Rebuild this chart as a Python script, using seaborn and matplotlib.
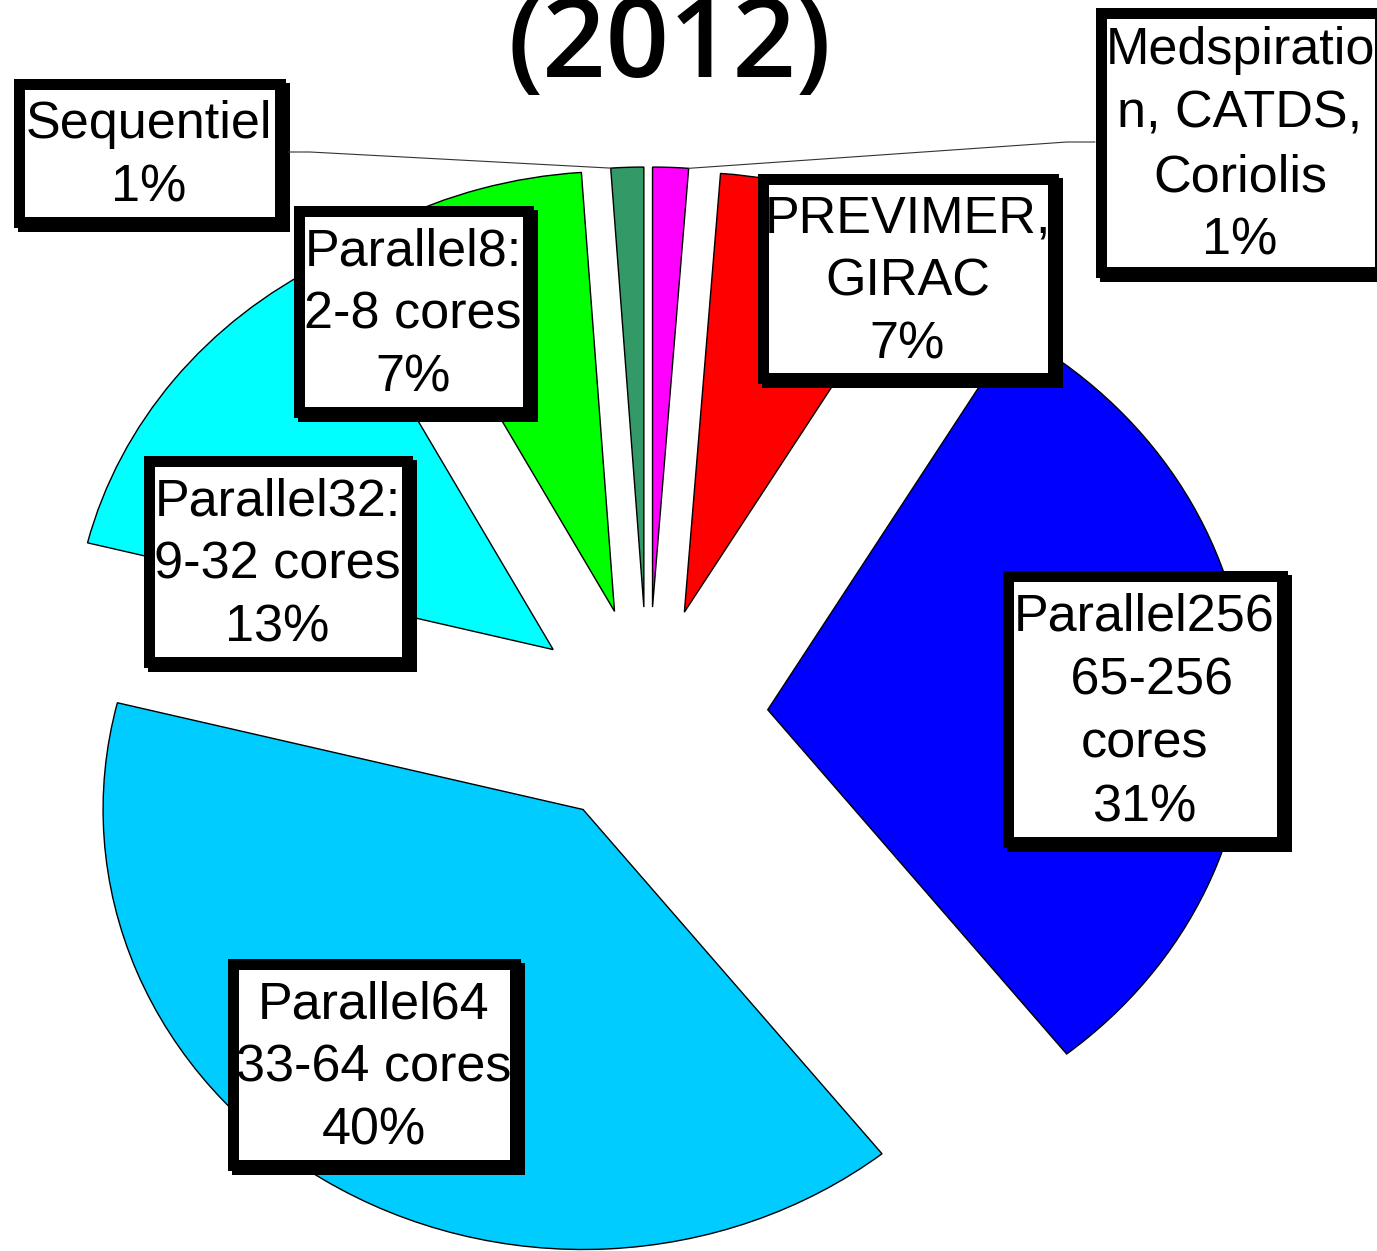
import matplotlib
matplotlib.use("Agg")
import matplotlib.pyplot as plt
from matplotlib.patches import Rectangle
import numpy as np
import seaborn as sns

# slices, clockwise from 12 o'clock (shares in %)
names = ["Medspiratio\nn, CATDS,\nCoriolis", "PREVIMER,\nGIRAC",
         "Parallel256\n 65-256\ncores", "Parallel64\n33-64 cores",
         "Parallel32:\n9-32 cores", "Parallel8:\n2-8 cores", "Sequentiel"]
shares = [1.2, 7.4, 30.7, 39.6, 13.2, 6.8, 1.1]
colors = ["#FF00FF", "#FF0000", "#0000FF", "#00CCFF",
          "#00FFFF", "#00FF00", "#339966"]
title = "(2012)"

# label boxes in output pixels (left, top, right, bottom)
boxes = [(1095, 7, 1385, 277), (757, 173, 1058, 383), (1002, 570, 1287, 847),
         (227, 958, 520, 1170), (143, 455, 412, 667), (293, 205, 533, 417),
         (13, 78, 285, 227)]

sns.set_style("white")
plt.rcParams["font.family"] = ["Liberation Sans", "DejaVu Sans"]
plt.rcParams["text.color"] = "black"

W, H = 1377, 1251
fig = plt.figure(figsize=(W / 100, H / 100), dpi=100)

# pie, stretched a bit wider than tall like the original
ax = fig.add_axes([0, 0, 1, 1])
cx, cy, rx, ry = 648, 717, 480, 440
wedges, _ = ax.pie(shares, colors=sns.color_palette(colors), startangle=90,
                   counterclock=False, explode=[0.25] * len(shares),
                   wedgeprops=dict(edgecolor="black", linewidth=1.0))
ax.set_aspect("auto")
ax.set_xlim(-cx / rx, (W - cx) / rx)
ax.set_ylim(-(H - cy) / ry, cy / ry)
ax.axis("off")

# overlay in pixel coordinates for boxes and text
lay = fig.add_axes([0, 0, 1, 1])
lay.set_xlim(0, W)
lay.set_ylim(H, 0)
lay.axis("off")


def to_px(w, ang):
    x = w.center[0] + w.r * np.cos(np.radians(ang))
    y = w.center[1] + w.r * np.sin(np.radians(ang))
    dx, dy = ax.transData.transform((x, y))
    return dx, H - dy


# leader lines for the two thin slices
px, py = to_px(wedges[6], wedges[6].theta2)
lay.plot([288, 310, px], [152, 152, py], color="#333333", lw=0.8)
px, py = to_px(wedges[0], wedges[0].theta1)
lay.plot([1095, 1067, px], [142, 142, py], color="#333333", lw=0.8)

lw = 11
for name, v, (x0, y0, x1, y1) in zip(names, shares, boxes):
    lay.add_patch(Rectangle((x0 + 5, y0 + 5), x1 - x0, y1 - y0,
                            facecolor="black", edgecolor="none"))
    lay.add_patch(Rectangle((x0 + lw / 2, y0 + lw / 2), x1 - x0 - lw, y1 - y0 - lw,
                            facecolor="white", edgecolor="black",
                            linewidth=lw * 0.72))
    lay.text((x0 + x1) / 2, (y0 + y1) / 2 + 4, f"{name}\n{v:.0f}%",
             ha="center", va="center", multialignment="center",
             fontsize=37.5, linespacing=1.38)

fig.text(670 / W, 1 - 77 / H, title, ha="center", va="baseline",
         fontsize=80, family="Open Sans", weight="semibold", color="black")

fig.savefig("out.png", dpi=100)
